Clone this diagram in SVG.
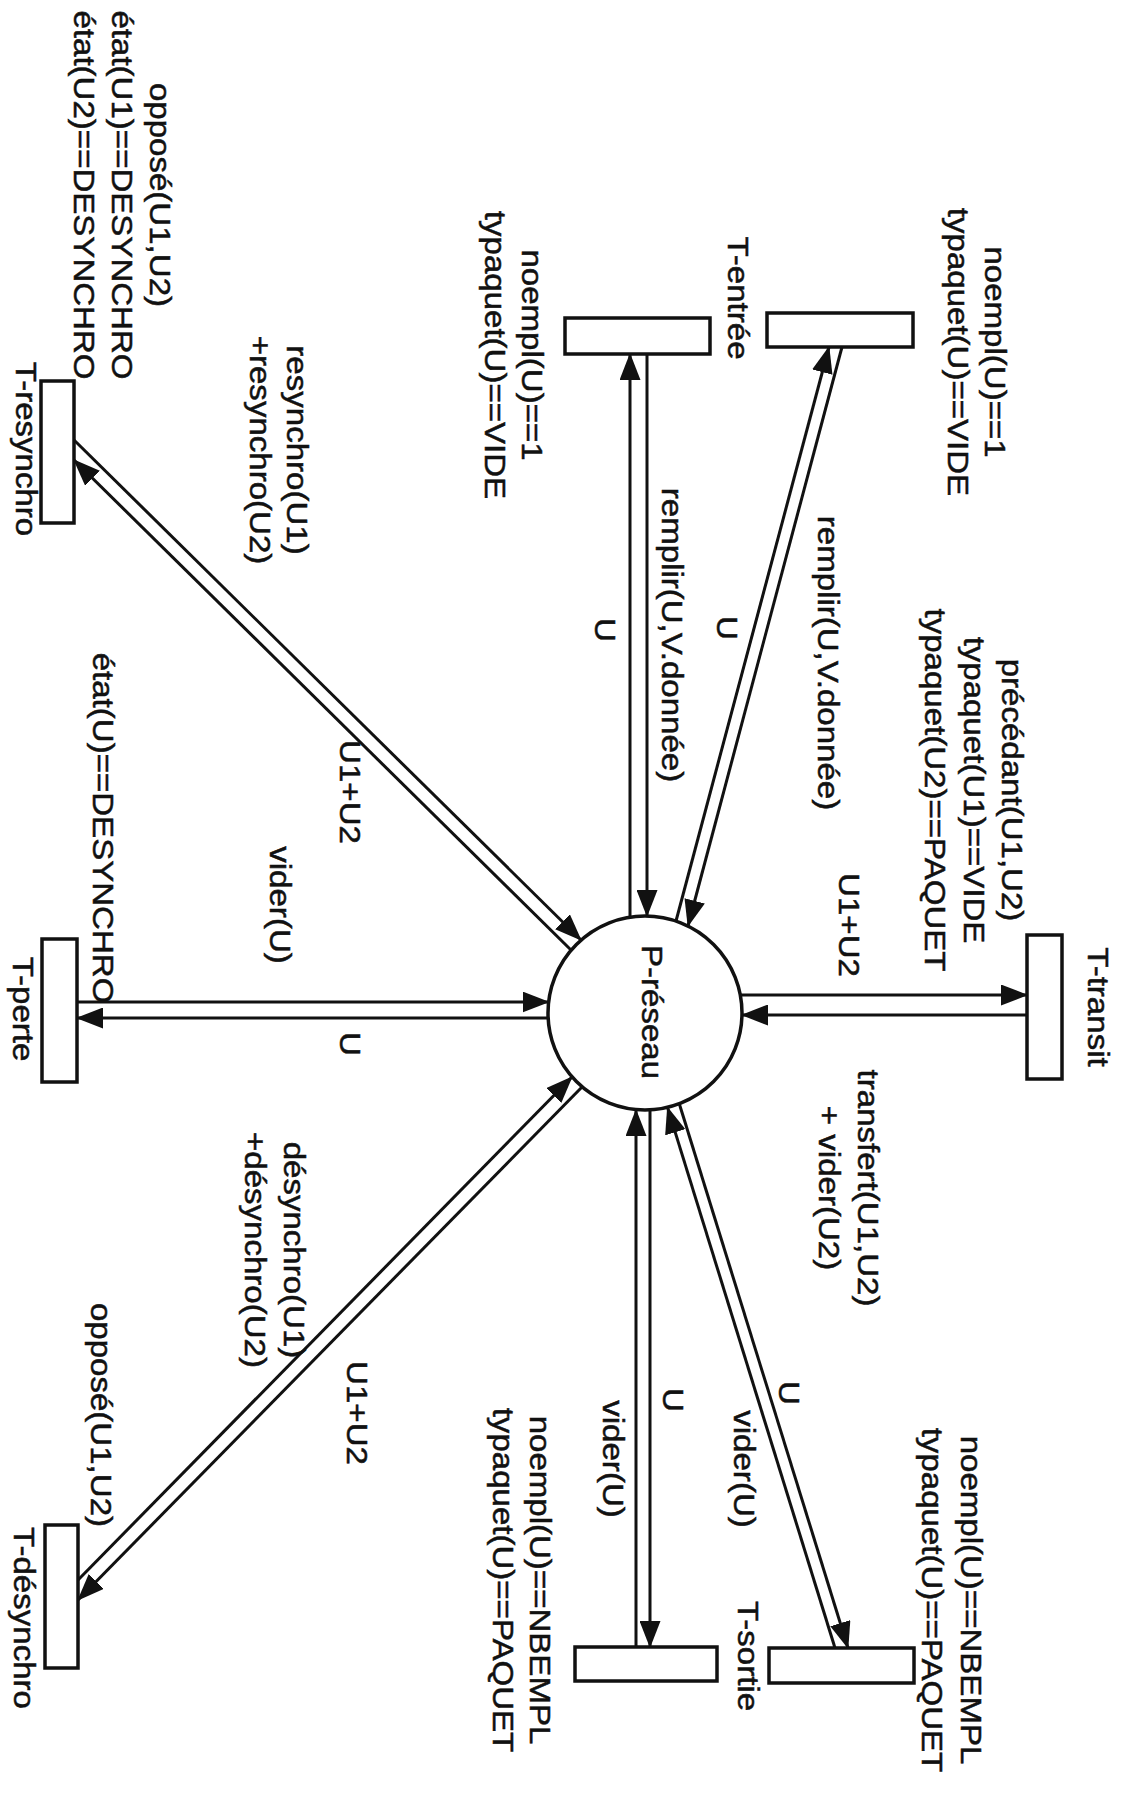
<svg xmlns="http://www.w3.org/2000/svg" width="1127" height="1798" viewBox="0 0 1127 1798">
<defs>
<style>
.bg{fill:#ffffff}
.box{fill:#ffffff;stroke:#111;stroke-width:3.5}
.place{fill:#ffffff;stroke:#111;stroke-width:3.5}
.edge{stroke:#111;stroke-width:3;fill:none}
.arr{marker-end:url(#ah)}
text{font-family:"Liberation Sans",Arial,Helvetica,sans-serif;font-size:29px;fill:#111;stroke:#111;stroke-width:0.5}
</style>
<marker id="ah" markerUnits="userSpaceOnUse" viewBox="0 0 27 21" markerWidth="27" markerHeight="21" refX="26" refY="10.5" orient="auto">
<path d="M0,0 L27,10.5 L0,21 z" fill="#111"/>
</marker>
</defs>
<rect class="bg" x="0" y="0" width="1127" height="1798"/>

<g id="connectors">
<path class="edge arr" d="M74,440 L581,940"/>
<path class="edge arr" d="M571,950 L74,460"/>
<path class="edge arr" d="M77,1002 L548.6,1002"/>
<path class="edge arr" d="M548,1018 L77,1018"/>
<path class="edge arr" d="M78,1580 L572,1077"/>
<path class="edge arr" d="M582,1087 L78,1600"/>
<path class="edge arr" d="M636,1647 L636,1110"/>
<path class="edge arr" d="M650,1110 L650,1647"/>
<path class="edge arr" d="M835,1648 L667.5,1107.4"/>
<path class="edge arr" d="M679.3,1103.7 L848,1648"/>
<path class="edge arr" d="M740,995 L1027,995"/>
<path class="edge arr" d="M1027,1015 L742,1015"/>
<path class="edge arr" d="M676,921 L829,347"/>
<path class="edge arr" d="M842,347 L688,926"/>
<path class="edge arr" d="M630,917 L630,354"/>
<path class="edge arr" d="M647,354 L647,916"/>
</g>

<g id="edge-labels">
<text transform="translate(662,635) rotate(90) scale(1.14,1)" text-anchor="middle">remplir(U,V.donnée)</text>
<text transform="translate(818,663) rotate(90) scale(1.14,1)" text-anchor="middle">remplir(U,V.donnée)</text>
<text transform="translate(595,630) rotate(90) scale(1.14,1)" text-anchor="middle">U</text>
<text transform="translate(717,628) rotate(90) scale(1.14,1)" text-anchor="middle">U</text>
<text transform="translate(287,450) rotate(90) scale(1.14,1)" text-anchor="middle"><tspan x="0" y="0">resynchro(U1)</tspan><tspan x="0" y="37">+resynchro(U2)</tspan></text>
<text transform="translate(839,925) rotate(90) scale(1.14,1)" text-anchor="middle">U1+U2</text>
<text transform="translate(340,792) rotate(90) scale(1.14,1)" text-anchor="middle">U1+U2</text>
<text transform="translate(270,905) rotate(90) scale(1.14,1)" text-anchor="middle">vider(U)</text>
<text transform="translate(340,1044) rotate(90) scale(1.14,1)" text-anchor="middle">U</text>
<text transform="translate(858,1188) rotate(90) scale(1.14,1)" text-anchor="middle"><tspan x="0" y="0">transfert(U1,U2)</tspan><tspan x="0" y="39">+ vider(U2)</tspan></text>
<text transform="translate(284,1250) rotate(90) scale(1.14,1)" text-anchor="middle"><tspan x="0" y="0">désynchro(U1)</tspan><tspan x="0" y="39">+désynchro(U2)</tspan></text>
<text transform="translate(347,1413) rotate(90) scale(1.14,1)" text-anchor="middle">U1+U2</text>
<text transform="translate(663,1400) rotate(90) scale(1.14,1)" text-anchor="middle">U</text>
<text transform="translate(779,1393) rotate(90) scale(1.14,1)" text-anchor="middle">U</text>
<text transform="translate(603,1459) rotate(90) scale(1.14,1)" text-anchor="middle">vider(U)</text>
<text transform="translate(734,1469) rotate(90) scale(1.14,1)" text-anchor="middle">vider(U)</text>
</g>

<g id="P-reseau">
<circle class="place" cx="645" cy="1013" r="97"/>
<text transform="translate(642,1012) rotate(90) scale(1.14,1)" text-anchor="middle">P-réseau</text>
</g>

<g id="T-entree-1">
<rect class="box" x="565" y="318" width="145" height="36"/>
<text transform="translate(522,355) rotate(90) scale(1.14,1)" text-anchor="middle"><tspan x="0" y="0">noempl(U)==1</tspan><tspan x="0" y="37">typaquet(U)==VIDE</tspan></text>
</g>
<g id="T-entree-2">
<rect class="box" x="767" y="313" width="146" height="34"/>
<text transform="translate(985,352) rotate(90) scale(1.14,1)" text-anchor="middle"><tspan x="0" y="0">noempl(U)==1</tspan><tspan x="0" y="37">typaquet(U)==VIDE</tspan></text>
</g>
<g id="T-entree-label">
<text transform="translate(728,298) rotate(90) scale(1.14,1)" text-anchor="middle">T-entrée</text>
</g>

<g id="T-transit">
<rect class="box" x="1027" y="935" width="35" height="144"/>
<text transform="translate(1088,1007) rotate(90) scale(1.14,1)" text-anchor="middle">T-transit</text>
<text transform="translate(1002,790) rotate(90) scale(1.14,1)" text-anchor="middle"><tspan x="0" y="0">précédant(U1,U2)</tspan><tspan x="0" y="38">typaquet(U1)==VIDE</tspan><tspan x="0" y="77">typaquet(U2)==PAQUET</tspan></text>
</g>

<g id="T-resynchro">
<rect class="box" x="41" y="381" width="33" height="142"/>
<text transform="translate(16,449) rotate(90) scale(1.14,1)" text-anchor="middle">T-resynchro</text>
<text transform="translate(150,195) rotate(90) scale(1.14,1)" text-anchor="middle"><tspan x="0" y="0">opposé(U1,U2)</tspan><tspan x="0" y="38">état(U1)==DESYNCHRO</tspan><tspan x="0" y="76">état(U2)==DESYNCHRO</tspan></text>
</g>

<g id="T-perte">
<rect class="box" x="42" y="939" width="35" height="143"/>
<text transform="translate(13,1009) rotate(90) scale(1.14,1)" text-anchor="middle">T-perte</text>
<text transform="translate(93,828) rotate(90) scale(1.14,1)" text-anchor="middle">état(U)==DESYNCHRO</text>
</g>

<g id="T-desynchro">
<rect class="box" x="45" y="1525" width="33" height="143"/>
<text transform="translate(14,1618) rotate(90) scale(1.14,1)" text-anchor="middle">T-désynchro</text>
<text transform="translate(91,1415) rotate(90) scale(1.14,1)" text-anchor="middle">opposé(U1,U2)</text>
</g>

<g id="T-sortie-1">
<rect class="box" x="575" y="1647" width="142" height="34"/>
<text transform="translate(530,1580) rotate(90) scale(1.14,1)" text-anchor="middle"><tspan x="0" y="0">noempl(U)==NBEMPL</tspan><tspan x="0" y="37">typaquet(U)==PAQUET</tspan></text>
</g>
<g id="T-sortie-2">
<rect class="box" x="769" y="1648" width="145" height="35"/>
<text transform="translate(961,1600) rotate(90) scale(1.14,1)" text-anchor="middle"><tspan x="0" y="0">noempl(U)==NBEMPL</tspan><tspan x="0" y="39">typaquet(U)==PAQUET</tspan></text>
</g>
<g id="T-sortie-label">
<text transform="translate(738,1656) rotate(90) scale(1.14,1)" text-anchor="middle">T-sortie</text>
</g>
</svg>
